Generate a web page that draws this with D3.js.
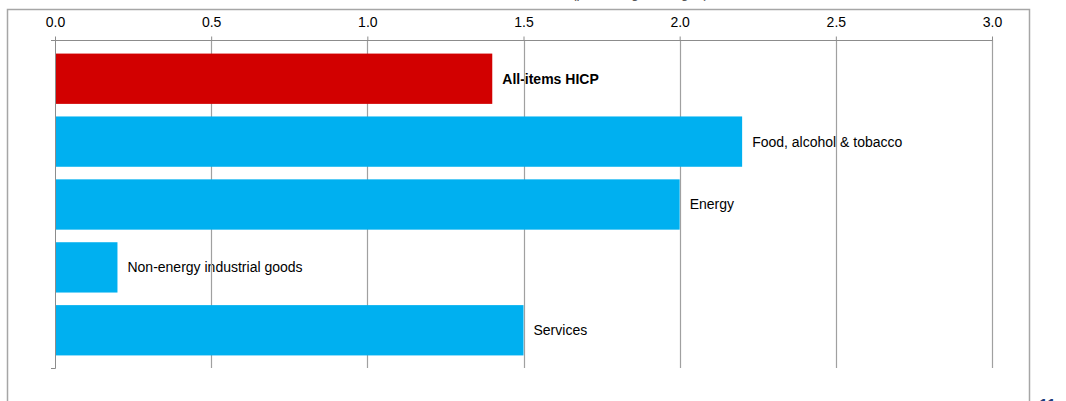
<!DOCTYPE html>
<html>
<head>
<meta charset="utf-8">
<script src="https://cdn.jsdelivr.net/npm/d3@7/dist/d3.min.js"></script>
<style>
  body { margin: 0; background: #fff; }
  svg { display: block; font-family: "Liberation Sans", Arial, sans-serif; }
  .axis text { font-size: 14px; fill: #000; }
  .axis path, .axis line { stroke: #8c8c8c; }
</style>
</head>
<body>
<div id="chart"></div>
<script>
var categories = ["All-items HICP", "Food, alcohol & tobacco", "Energy", "Non-energy industrial goods", "Services"];
var values = [1.4, 2.2, 2.0, 0.2, 1.5];
var tickValues = [0, 0.5, 1.0, 1.5, 2.0, 2.5, 3.0];
var barColors = ["#d20000", "#00b0f0", "#00b0f0", "#00b0f0", "#00b0f0"];

var W = 1066, H = 401;
var plot = { left: 55, right: 992, top: 40, bottom: 368 };

var svg = d3.select("#chart").append("svg")
    .attr("width", W)
    .attr("height", H);

// outer frame (bottom runs off the picture)
svg.append("path")
    .attr("d", "M7.5," + (H + 5) + "V9.5H1029.5V" + (H + 5))
    .attr("fill", "none")
    .attr("stroke", "#a6a6a6")
    .attr("stroke-width", 1.5);

// title, cut off at the top edge
svg.append("text")
    .attr("x", 640)
    .attr("y", -2.5)
    .attr("text-anchor", "middle")
    .style("font-size", "14px")
    .style("fill", "#555")
    .text("(percentage changes)");

var x = d3.scaleLinear().domain([0, 3]).range([plot.left, plot.right]);
var y = d3.scaleBand().domain(categories).range([plot.top + 1, plot.bottom])
    .paddingInner(0.2).paddingOuter(0.2);

var data = categories.map(function (c, i) { return { name: c, value: values[i], color: barColors[i] }; });

// labels (under the gridlines)
svg.selectAll(".lbl")
    .data(data).enter()
    .append("text")
    .attr("class", "lbl")
    .attr("x", function (d) { return x(d.value) + 10; })
    .attr("y", function (d) { return y(d.name) + y.bandwidth() / 2; })
    .attr("dy", "0.35em")
    .style("font-size", "14px")
    .style("font-weight", function (d, i) { return i === 0 ? "bold" : "normal"; })
    .text(function (d) { return d.name; });

// gridlines
svg.selectAll(".grid")
    .data(tickValues.slice(1)).enter()
    .append("line")
    .attr("class", "grid")
    .attr("x1", function (d) { return Math.round(x(d)) + 0.5; })
    .attr("x2", function (d) { return Math.round(x(d)) + 0.5; })
    .attr("y1", plot.top)
    .attr("y2", plot.bottom)
    .attr("stroke", "#a0a0a0")
    .attr("stroke-width", 1.2);

// top axis
var xAxis = d3.axisTop(x).tickValues(tickValues).tickFormat(d3.format(".1f"))
    .tickSize(4).tickSizeOuter(0).tickPadding(10);
svg.append("g")
    .attr("class", "axis")
    .attr("transform", "translate(0," + (plot.top + 0.5) + ")")
    .call(xAxis)
    .call(function (g) { g.select(".domain").attr("d", "M" + (plot.left - 4) + ",0H" + (plot.right + 0.5)); });

// left axis line with small end tick
svg.append("path")
    .attr("d", "M" + (plot.left + 0.5) + "," + plot.top + "V" + (plot.bottom + 0.5) + "H" + (plot.left - 4))
    .attr("fill", "none")
    .attr("stroke", "#8c8c8c");

// bars
svg.selectAll(".bar")
    .data(data).enter()
    .append("rect")
    .attr("class", "bar")
    .attr("x", x(0) + 1)
    .attr("y", function (d) { return y(d.name); })
    .attr("width", function (d) { return x(d.value) - x(0) - 1; })
    .attr("height", y.bandwidth())
    .attr("fill", function (d) { return d.color; });

// page number, cut off at the bottom edge
svg.append("text")
    .attr("x", 1039)
    .attr("y", 411)
    .style("font-size", "16px")
    .style("font-weight", "bold")
    .style("fill", "#1f3a7a")
    .text("11");
</script>
</body>
</html>
